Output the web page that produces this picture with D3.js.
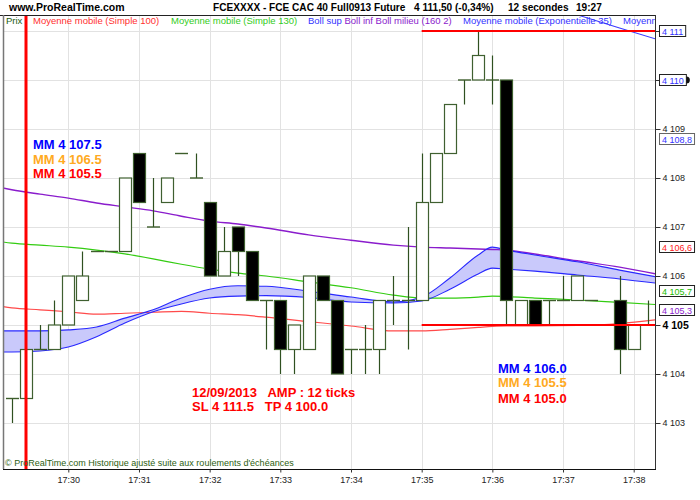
<!DOCTYPE html>
<html>
<head>
<meta charset="utf-8">
<script src="https://cdn.jsdelivr.net/npm/d3@7"></script>
<style>
  body { margin: 0; background: #fff; }
  text { font-family: "Liberation Sans", Arial, sans-serif; }
</style>
</head>
<body>
<div id="chart"></div>
<script>
// 12 second candles, first one at 17:29:12 (seconds counted from 17:30:00)
const candleStart = -48;
const candleStep = 12;
const candleOpen  = [4103.5,4103.5,4104.5,4104.5,4105,4105.5,4106.5,4106.5,4106.5,4108.5,4107,4107.5,4108.5,4108,4107.5,4106,4107,4106.5,4105.5,4105.5,4104.5,4104.5,4106,4105.5,4104.5,4104.5,4104.5,4105.5,4105.5,4105.5,4107.5,4108.5,4110,4110,4110,4110,4105,4105.5,4105.5,4105.5,4105.5,4105.5,null,4105.5,4104.5,4105];
const candleHigh  = [4103.5,4104.5,4105,4105.5,4106,4106.5,4106.5,4106.5,4108,4108.5,4108,4108,4108.5,4108.5,4107.5,4107,4107,4106.5,4105.5,4105.5,4105,4106,4106,4105.5,4104.5,4105,4105.5,4106,4107,4108.5,4108.5,4109.5,4110,4111,4110.5,4110,4105.5,4105.5,4105.5,4106,4106,4105.5,null,4106,4105,4105.5];
const candleLow   = [4103,4103.5,4104.5,4104.5,4105,4105.5,4106.5,4106.5,4106.5,4107.5,4107,4107.5,4108.5,4108,4106,4106,4106,4105.5,4104.5,4104,4104,4104.5,4105.5,4104,4104,4104,4104,4105,4104.5,4105.5,4107.5,4108.5,4109.5,4110,4109.5,4105,4105,4105,4105,4105.5,4105.5,4105.5,null,4104,4104.5,4105];
const candleClose = [4103.5,4104.5,4104.5,4105,4106,4106,4106.5,4106.5,4108,4107.5,4107,4108,4108.5,4108,4106,4106.5,4106.5,4105.5,4105.5,4104.5,4105,4106,4105.5,4104,4104.5,4104.5,4105.5,4105.5,4105.5,4107.5,4108.5,4109.5,4110,4110.5,4110,4105.5,4105.5,4105,4105.5,4105.5,4106,4105.5,null,4104.5,4105,4105];

// indicator readings (seconds from 17:30:00)
const lineSec = [-60,-48,-24,0,24,48,72,96,120,144,168,204,240,276,300,324,348,360,372,396,432,468,504];
const mm100   = [4105.39,4105.35,4105.31,4105.27,4105.22,4105.24,4105.26,4105.28,4105.24,4105.21,4105.16,4105.07,4104.98,4104.88,4104.88,4104.91,4104.95,4104.97,4104.98,4104.98,4104.99,4105.03,4105.12];
const mm130   = [4106.71,4106.67,4106.63,4106.59,4106.53,4106.45,4106.35,4106.24,4106.14,4106.06,4106.00,4105.88,4105.76,4105.61,4105.55,4105.55,4105.57,4105.59,4105.58,4105.55,4105.51,4105.46,4105.41];
const bollMid = [4107.82,4107.76,4107.67,4107.59,4107.49,4107.41,4107.33,4107.22,4107.12,4107.06,4106.98,4106.84,4106.73,4106.63,4106.59,4106.57,4106.55,4106.54,4106.53,4106.45,4106.31,4106.18,4106.02];
const emaUp   = [4104.88,4104.88,4104.88,4104.90,4104.96,4105.14,4105.31,4105.55,4105.73,4105.80,4105.79,4105.69,4105.57,4105.47,4105.57,4105.96,4106.43,4106.59,4106.53,4106.43,4106.29,4106.12,4105.96];
const emaLo   = [4104.45,4104.45,4104.47,4104.55,4104.76,4105.04,4105.27,4105.43,4105.55,4105.59,4105.60,4105.56,4105.47,4105.45,4105.49,4105.73,4106.04,4106.16,4106.14,4106.10,4106.02,4105.94,4105.84];
const bollSupSec = [396,432,468,504];
const bollSup    = [4111.53,4111.33,4111.06,4110.80];

// red levels drawn from 17:35:00
const levelStart = 300;
const levels = [4111, 4105];

const timeTicks = [0,60,120,180,240,300,360,420,480];
const priceTicks = [4103,4104,4105,4106,4107,4108,4109,4110,4111];
const tagValues = [4111, 4110, 4108.8, 4106.6, 4105.7, 4105.3];
const tagLabels = ["4 111", "4 110", "4 108,8", "4 106,6", "4 105,7", "4 105,3"];

const noteLeft  = ["MM 4 107.5", "MM 4 106.5", "MM 4 105.5"];
const noteRight = ["MM 4 106.0", "MM 4 105.5", "MM 4 105.0"];

const width = 700;
const height = 500;
const plot = { left: 3, right: 655, top: 15, bottom: 469 };

const x = d3.scaleLinear().domain([0, 480]).range([68.3, 633.7]);
const y = d3.scaleLinear().domain([4103, 4111]).range([423, 31]);

const svg = d3.select("#chart").append("svg")
    .attr("width", width)
    .attr("height", height);

svg.append("defs").append("clipPath").attr("id", "plotclip")
    .append("rect")
    .attr("x", plot.left).attr("y", plot.top)
    .attr("width", plot.right - plot.left).attr("height", plot.bottom - plot.top);

// header
const head = svg.append("g").attr("font-weight", "bold").attr("fill", "#000");
head.append("text").attr("x", 9).attr("y", 11).attr("font-size", 10.5).text("www.ProRealTime.com");
head.append("text").attr("x", 213).attr("y", 11).attr("font-size", 10.1).text("FCEXXXX - FCE CAC 40 Full0913 Future");
head.append("text").attr("x", 414).attr("y", 11).attr("font-size", 10.1).text("4 111,50 (-0,34%)");
head.append("text").attr("x", 508).attr("y", 11).attr("font-size", 10.1).text("12 secondes");
head.append("text").attr("x", 576).attr("y", 11).attr("font-size", 10.1).text("19:27");

// grid
const grid = svg.append("g").attr("stroke", "#e2e2e2").attr("stroke-width", 1);
grid.selectAll(".vg").data(timeTicks).enter().append("line")
    .attr("x1", d => Math.round(x(d)) + 0.5).attr("x2", d => Math.round(x(d)) + 0.5)
    .attr("y1", plot.top).attr("y2", plot.bottom);
grid.selectAll(".hg").data(priceTicks).enter().append("line")
    .attr("x1", plot.left).attr("x2", plot.right)
    .attr("y1", d => Math.round(y(d)) + 0.5).attr("y2", d => Math.round(y(d)) + 0.5);

const area = svg.append("g").attr("clip-path", "url(#plotclip)");

// EMA band
const pts = lineSec.map((s, i) => i);
area.append("path")
    .datum(pts)
    .attr("fill", "#c9c9fb")
    .attr("d", d3.area().curve(d3.curveMonotoneX)
        .x(i => x(lineSec[i])).y0(i => y(emaLo[i])).y1(i => y(emaUp[i])));

const line = vals => d3.line().curve(d3.curveMonotoneX)
    .x(i => x(lineSec[i])).y(i => y(vals[i]))(pts);

area.append("path").attr("d", line(mm100)).attr("fill", "none").attr("stroke", "#ff4a4a").attr("stroke-width", 1.2);
area.append("path").attr("d", line(mm130)).attr("fill", "none").attr("stroke", "#33cc11").attr("stroke-width", 1.2);
area.append("path").attr("d", line(bollMid)).attr("fill", "none").attr("stroke", "#8a1ccc").attr("stroke-width", 1.4);
area.append("path").attr("d", line(emaUp)).attr("fill", "none").attr("stroke", "#2828ff").attr("stroke-width", 1.1);
area.append("path").attr("d", line(emaLo)).attr("fill", "none").attr("stroke", "#2828ff").attr("stroke-width", 1.1);
area.append("path")
    .attr("d", d3.line().x((s, i) => x(s)).y((s, i) => y(bollSup[i]))(bollSupSec))
    .attr("fill", "none").attr("stroke", "#3a3aff").attr("stroke-width", 1.1);

// candles
const candles = candleOpen.map((o, i) => ({
    t: candleStart + i * candleStep,
    o: o, h: candleHigh[i], l: candleLow[i], c: candleClose[i]
})).filter(d => d.o !== null);

const half = 6;
const cg = area.append("g").attr("stroke", "#2f5020");
cg.selectAll(".wick").data(candles.filter(d => d.h > d.l)).enter().append("line")
    .attr("x1", d => Math.round(x(d.t)) + 0.5).attr("x2", d => Math.round(x(d.t)) + 0.5)
    .attr("y1", d => y(d.h)).attr("y2", d => y(d.l))
    .attr("stroke-width", 1.2);
cg.selectAll(".body").data(candles.filter(d => d.o !== d.c)).enter().append("rect")
    .attr("x", d => Math.round(x(d.t)) - half + 0.5)
    .attr("y", d => y(Math.max(d.o, d.c)))
    .attr("width", half * 2)
    .attr("height", d => Math.abs(y(d.o) - y(d.c)))
    .attr("fill", d => d.c > d.o ? "#fff" : "#000")
    .attr("stroke", "#3f6030")
    .attr("stroke-width", 1.2);
cg.selectAll(".doji").data(candles.filter(d => d.o === d.c)).enter().append("line")
    .attr("x1", d => Math.round(x(d.t)) - half).attr("x2", d => Math.round(x(d.t)) + half + 1)
    .attr("y1", d => y(d.o)).attr("y2", d => y(d.o))
    .attr("stroke", "#3d5e2c")
    .attr("stroke-width", 1.4);

// red levels
area.selectAll(".lvl").data(levels).enter().append("line")
    .attr("x1", x(levelStart)).attr("x2", plot.right)
    .attr("y1", d => y(d)).attr("y2", d => y(d))
    .attr("stroke", "#ff0000").attr("stroke-width", 2);

// legend
const leg = svg.append("g").attr("clip-path", "url(#plotclip)").attr("font-size", 9.5);
leg.append("text").attr("x", 6).attr("y", 24).attr("fill", "#1d5a10").text("Prix");
leg.append("text").attr("x", 33).attr("y", 24).attr("fill", "#ff3030").text("Moyenne mobile (Simple 100)");
leg.append("text").attr("x", 171).attr("y", 24).attr("fill", "#33cc22").text("Moyenne mobile (Simple 130)");
const boll = leg.append("text").attr("x", 308).attr("y", 24);
boll.append("tspan").attr("fill", "#3333ff").text("Boll sup ");
boll.append("tspan").attr("fill", "#8a22cc").text("Boll inf Boll milieu (160 2)");
leg.append("text").attr("x", 463).attr("y", 24).attr("fill", "#3333ff").text("Moyenne mobile (Exponentielle 35)");
leg.append("text").attr("x", 623).attr("y", 24).attr("fill", "#3333ff").text("Moyenn");

// time cursor
svg.append("line")
    .attr("x1", 26).attr("x2", 26).attr("y1", plot.top).attr("y2", plot.bottom)
    .attr("stroke", "#ff0000").attr("stroke-width", 3);

// frame
svg.append("line").attr("x1", 0).attr("x2", plot.right).attr("y1", plot.top + 0.5).attr("y2", plot.top + 0.5)
    .attr("stroke", "#222");
svg.append("line").attr("x1", plot.left + 0.5).attr("x2", plot.left + 0.5).attr("y1", plot.top).attr("y2", plot.bottom)
    .attr("stroke", "#777").attr("stroke-width", 1.5);
svg.append("line").attr("x1", plot.right + 0.5).attr("x2", plot.right + 0.5).attr("y1", plot.top).attr("y2", plot.bottom)
    .attr("stroke", "#333");
svg.append("line").attr("x1", plot.left).attr("x2", plot.right + 1).attr("y1", plot.bottom + 0.5).attr("y2", plot.bottom + 0.5)
    .attr("stroke", "#111");

// notes
const notes = svg.append("g").attr("font-size", 13).attr("font-weight", "bold");
const noteColors = ["#0000ff", "#ffaa22", "#ff0000"];
const leftY = [149, 164, 178];
const rightY = [373, 387, 403];
noteLeft.forEach((t, i) => notes.append("text").attr("x", 33).attr("y", leftY[i]).attr("fill", noteColors[i]).text(t));
noteRight.forEach((t, i) => notes.append("text").attr("x", 498).attr("y", rightY[i]).attr("fill", noteColors[i]).text(t));
notes.append("text").attr("x", 192).attr("y", 397).attr("fill", "#ff0000")
    .style("white-space", "pre").text("12/09/2013   AMP : 12 ticks");
notes.append("text").attr("x", 192).attr("y", 411).attr("fill", "#ff0000")
    .style("white-space", "pre").text("SL 4 111.5   TP 4 100.0");

svg.append("text").attr("x", 5).attr("y", 466).attr("font-size", 9).attr("fill", "#2c5e10")
    .text("© ProRealTime.com Historique ajusté suite aux roulements d'échéances");

// axes
const fmtPrice = v => String(v).replace(/^(\d)(\d{3})/, "$1 $2").replace(".", ",");

const yAxis = svg.append("g")
    .attr("transform", `translate(${plot.right + 0.5},0)`)
    .call(d3.axisRight(y).tickValues(priceTicks).tickSize(5).tickPadding(2).tickFormat(fmtPrice));
yAxis.select(".domain").remove();
yAxis.selectAll("text").attr("font-size", 9).attr("fill", "#222")
    .attr("font-family", "Liberation Sans, Arial, sans-serif");
yAxis.selectAll("line").attr("stroke", "#333");
yAxis.selectAll(".tick").filter(d => d === 4105).select("text")
    .attr("font-weight", "bold").attr("font-size", 10.5).attr("fill", "#000");

const xAxis = svg.append("g")
    .attr("transform", `translate(0,${plot.bottom + 0.5})`)
    .call(d3.axisBottom(x).tickValues(timeTicks).tickSize(3).tickPadding(4)
        .tickFormat(s => "17:" + (30 + s / 60)));
xAxis.select(".domain").remove();
xAxis.selectAll("text").attr("font-size", 9).attr("fill", "#222")
    .attr("font-family", "Liberation Sans, Arial, sans-serif");
xAxis.selectAll("line").attr("stroke", "#333");

// price tags
const tagColors = ["#3333ff", "#3333ff", "#3333ff", "#ff2020", "#22bb00", "#8a22cc"];
const tags = svg.append("g").attr("font-size", 9);
tagValues.forEach((v, i) => {
    const g = tags.append("g").attr("transform", `translate(659,${Math.round(y(v))})`);
    const txt = g.append("text").attr("x", 3).attr("y", 3.5).attr("fill", tagColors[i]).text(tagLabels[i]);
    const w = txt.node().getComputedTextLength() + 5;
    g.insert("rect", "text")
        .attr("x", 0.5).attr("y", -5.5).attr("width", w).attr("height", 11)
        .attr("fill", "#fff").attr("stroke", i === 2 ? "#666" : "#222");
    if (i === 1) {
        g.append("path")
            .attr("d", d3.arc()({ innerRadius: 0, outerRadius: 3.5, startAngle: 0, endAngle: Math.PI }))
            .attr("transform", `translate(${w + 0.5},0)`)
            .attr("fill", "#111");
    }
});
</script>
</body>
</html>
